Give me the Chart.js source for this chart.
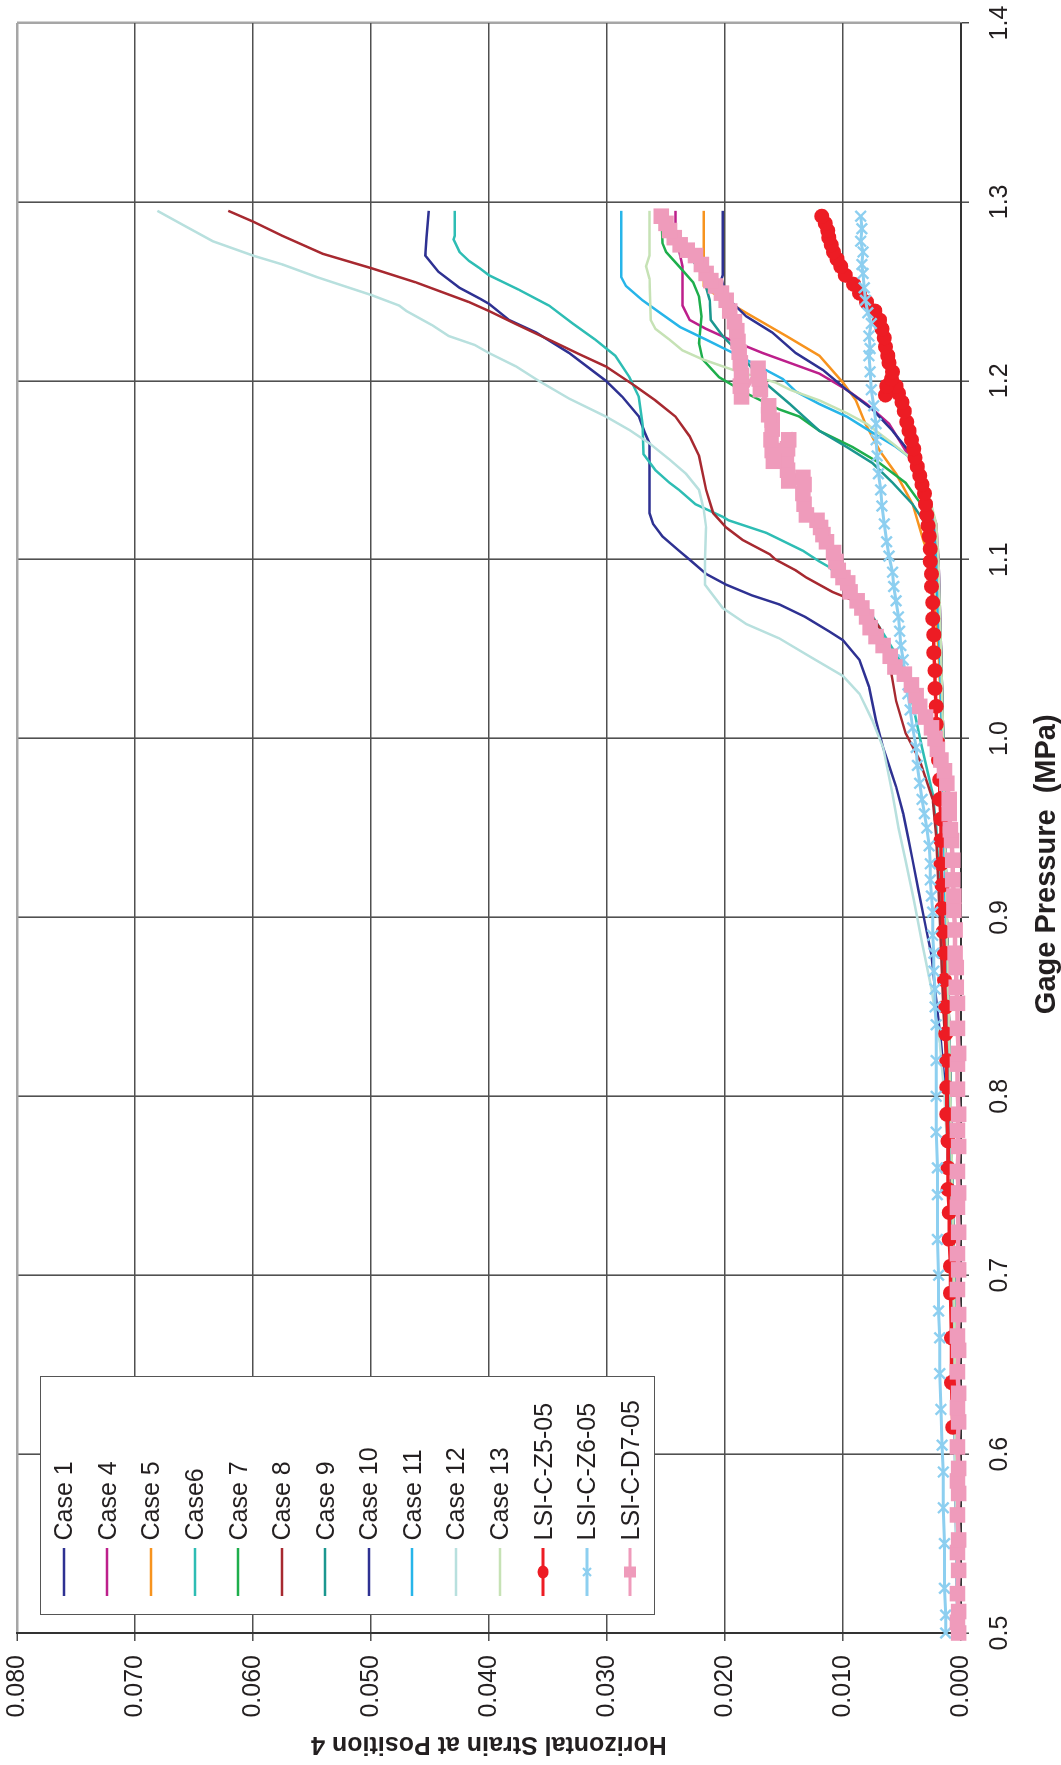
<!DOCTYPE html>
<html><head><meta charset="utf-8">
<script src="https://cdn.jsdelivr.net/npm/chart.js@4.4.1/dist/chart.umd.min.js"></script>
<style>
html,body{margin:0;padding:0;background:#fff;}
body{width:1061px;height:1765px;overflow:hidden;position:relative;}
#frame{position:absolute;left:0;top:0;width:1765px;height:1061px;transform-origin:0 0;transform:translateY(1765px) rotate(-90deg);}
#c{position:absolute;left:0;top:0;}
#legend{position:absolute;left:150px;top:40px;width:239px;height:615px;box-sizing:border-box;border:1.5px solid #555;background:#fff;padding-top:1px;font-family:"Liberation Sans",Arial,sans-serif;font-size:25px;color:#231f20;}
.item{height:43.58px;display:flex;align-items:center;}
.item svg{margin-left:17.5px;flex:none;}
.item span{margin-left:8px;white-space:nowrap;line-height:1;}
</style></head><body>
<div id="frame"><canvas id="c" width="1765" height="1061"></canvas><div id="legend"></div></div>
<script>
// [gage pressure (MPa), horizontal strain]
const case1 = [[0.50,0.0003],[0.60,0.0005],[0.70,0.0008],[0.80,0.0013],[0.83,0.0017],[0.86,0.0022],[0.879,0.0025],[0.895,0.0030],[0.915,0.0036],[0.932,0.0041],[0.945,0.0045],[0.958,0.0049],[0.973,0.0055],[0.985,0.0061],[0.995,0.0066],[1.010,0.0072],[1.029,0.0078],[1.044,0.0086],[1.055,0.0100],[1.060,0.0112],[1.068,0.0132],[1.075,0.0154],[1.080,0.0177],[1.086,0.0199],[1.092,0.0216],[1.100,0.0230],[1.105,0.0239],[1.113,0.0253],[1.120,0.0261],[1.126,0.0264],[1.145,0.0264],[1.165,0.0264],[1.171,0.0268],[1.180,0.0273],[1.191,0.0287],[1.200,0.0301],[1.2155,0.0332],[1.227,0.0360],[1.234,0.0383],[1.243,0.0400],[1.246,0.0408],[1.252,0.0425],[1.261,0.0443],[1.270,0.0454],[1.280,0.0453],[1.295,0.0451]];
const case4 = [[0.50,0.0002],[0.60,0.0004],[0.70,0.0006],[0.80,0.0009],[0.90,0.0012],[1.00,0.0015],[1.05,0.0017],[1.10,0.0019],[1.12,0.0021],[1.143,0.0033],[1.161,0.0047],[1.176,0.0061],[1.187,0.0080],[1.195,0.0097],[1.204,0.0120],[1.210,0.0145],[1.2155,0.0168],[1.223,0.0196],[1.229,0.0216],[1.234,0.0230],[1.242,0.0236],[1.264,0.0236],[1.273,0.0239],[1.285,0.0242],[1.295,0.0242]];
const case5 = [[0.50,0.0002],[0.60,0.0004],[0.70,0.0006],[0.80,0.0009],[0.90,0.0012],[1.00,0.0016],[1.05,0.0019],[1.10,0.0026],[1.111,0.0032],[1.131,0.0041],[1.148,0.0055],[1.161,0.0069],[1.176,0.0081],[1.189,0.0089],[1.199,0.0100],[1.214,0.0120],[1.225,0.0148],[1.238,0.0182],[1.249,0.0210],[1.253,0.0218],[1.295,0.0218]];
const case6 = [[0.50,0.0002],[0.60,0.0004],[0.70,0.0007],[0.80,0.0011],[0.85,0.0014],[0.90,0.0017],[0.951,0.0021],[0.969,0.0024],[0.995,0.0033],[1.029,0.0044],[1.044,0.0052],[1.062,0.0069],[1.077,0.0083],[1.090,0.0103],[1.096,0.0112],[1.099,0.0120],[1.105,0.0134],[1.115,0.0165],[1.122,0.0197],[1.124,0.0202],[1.131,0.0225],[1.139,0.0239],[1.143,0.0247],[1.150,0.0259],[1.159,0.0269],[1.176,0.0270],[1.191,0.0273],[1.202,0.0281],[1.214,0.0293],[1.223,0.0310],[1.232,0.0329],[1.242,0.0349],[1.251,0.0375],[1.259,0.0400],[1.263,0.0408],[1.267,0.0417],[1.272,0.0425],[1.279,0.0430],[1.281,0.0429],[1.295,0.0429]];
const case7 = [[0.50,0.0002],[0.60,0.0004],[0.70,0.0006],[0.80,0.0009],[0.90,0.0012],[1.00,0.0015],[1.05,0.0017],[1.10,0.0021],[1.122,0.0027],[1.133,0.0036],[1.143,0.0047],[1.154,0.0069],[1.163,0.0092],[1.172,0.0120],[1.180,0.0137],[1.184,0.0154],[1.193,0.0182],[1.202,0.0205],[1.212,0.0219],[1.221,0.0222],[1.236,0.0220],[1.247,0.0222],[1.255,0.0227],[1.264,0.0239],[1.272,0.0250],[1.277,0.0253],[1.295,0.0254]];
const case8 = [[0.50,0.0002],[0.60,0.0004],[0.70,0.0007],[0.80,0.0011],[0.85,0.0015],[0.90,0.0018],[0.945,0.0021],[0.966,0.0024],[0.988,0.0035],[1.003,0.0047],[1.021,0.0055],[1.044,0.0061],[1.062,0.0069],[1.075,0.0083],[1.082,0.0109],[1.090,0.0131],[1.094,0.0140],[1.100,0.0157],[1.103,0.0162],[1.111,0.0185],[1.118,0.0199],[1.126,0.0210],[1.139,0.0216],[1.158,0.0222],[1.169,0.0230],[1.180,0.0242],[1.189,0.0259],[1.197,0.0276],[1.208,0.0301],[1.215,0.0324],[1.222,0.0346],[1.231,0.0375],[1.239,0.0400],[1.244,0.0417],[1.255,0.0462],[1.263,0.0500],[1.271,0.0541],[1.281,0.0575],[1.289,0.0600],[1.295,0.0621]];
const case9 = [[0.50,0.0002],[0.60,0.0004],[0.70,0.0006],[0.80,0.0009],[0.90,0.0012],[1.00,0.0015],[1.05,0.0018],[1.10,0.0022],[1.12,0.0030],[1.131,0.0041],[1.143,0.0058],[1.154,0.0075],[1.163,0.0097],[1.172,0.0120],[1.187,0.0145],[1.200,0.0168],[1.2155,0.0188],[1.225,0.0202],[1.234,0.0212],[1.245,0.0213],[1.257,0.0218],[1.262,0.0222],[1.270,0.0230],[1.280,0.0243],[1.295,0.0257]];
const case10 = [[0.50,0.0002],[0.60,0.0004],[0.70,0.0006],[0.80,0.0009],[0.90,0.0012],[1.00,0.0015],[1.05,0.0017],[1.10,0.0019],[1.111,0.0021],[1.139,0.0030],[1.158,0.0041],[1.172,0.0058],[1.184,0.0075],[1.195,0.0097],[1.206,0.0117],[1.2155,0.0140],[1.227,0.0160],[1.236,0.0182],[1.247,0.0199],[1.257,0.0203],[1.259,0.0202],[1.295,0.0202]];
const case11 = [[0.50,0.0002],[0.60,0.0004],[0.70,0.0006],[0.80,0.0009],[0.90,0.0013],[1.00,0.0016],[1.05,0.0018],[1.10,0.0021],[1.12,0.0024],[1.144,0.0030],[1.156,0.0041],[1.163,0.0055],[1.171,0.0075],[1.180,0.0097],[1.187,0.0120],[1.194,0.0140],[1.201,0.0151],[1.208,0.0171],[1.2155,0.0193],[1.223,0.0216],[1.230,0.0238],[1.237,0.0253],[1.245,0.0270],[1.253,0.0284],[1.258,0.0288],[1.295,0.0288]];
const case12 = [[0.50,0.0003],[0.60,0.0005],[0.70,0.0008],[0.75,0.0010],[0.80,0.0014],[0.83,0.0018],[0.86,0.0025],[0.886,0.0033],[0.910,0.0040],[0.932,0.0047],[0.950,0.0053],[0.969,0.0058],[0.995,0.0066],[1.010,0.0075],[1.025,0.0086],[1.035,0.0100],[1.045,0.0126],[1.056,0.0154],[1.064,0.0182],[1.073,0.0202],[1.086,0.0217],[1.100,0.0217],[1.118,0.0216],[1.128,0.0218],[1.139,0.0222],[1.148,0.0233],[1.156,0.0247],[1.165,0.0264],[1.1725,0.0281],[1.180,0.0301],[1.190,0.0332],[1.200,0.0358],[1.208,0.0377],[1.2155,0.0400],[1.220,0.0412],[1.225,0.0434],[1.231,0.0448],[1.235,0.0459],[1.239,0.0470],[1.242,0.0476],[1.248,0.0500],[1.258,0.0546],[1.265,0.0575],[1.270,0.0600],[1.278,0.0634],[1.287,0.0659],[1.295,0.0681]];
const case13 = [[0.50,0.0002],[0.60,0.0004],[0.70,0.0006],[0.80,0.0009],[0.90,0.0012],[1.00,0.0015],[1.05,0.0017],[1.10,0.0019],[1.12,0.0021],[1.143,0.0030],[1.156,0.0041],[1.165,0.0058],[1.176,0.0080],[1.182,0.0097],[1.189,0.0120],[1.195,0.0145],[1.199,0.0157],[1.206,0.0193],[1.212,0.0219],[1.217,0.0236],[1.223,0.0247],[1.229,0.0259],[1.234,0.0263],[1.257,0.0264],[1.264,0.0267],[1.270,0.0264],[1.295,0.0264]];
const lsiZ5 = [[0.615,0.0007],[0.640,0.0008],[0.665,0.0008],[0.690,0.0009],[0.705,0.0009],[0.720,0.0010],[0.735,0.0010],[0.748,0.0011],[0.760,0.0011],[0.775,0.0011],[0.790,0.0012],[0.805,0.0012],[0.820,0.0012],[0.835,0.0013],[0.850,0.0013],[0.865,0.0014],[0.880,0.0014],[0.892,0.0015],[0.905,0.0016],[0.918,0.0016],[0.930,0.0017],[0.943,0.0017],[0.955,0.0017],[0.966,0.0018],[0.977,0.0018],[0.988,0.0019],[0.998,0.0020],[1.008,0.0021],[1.018,0.0021],[1.028,0.0022],[1.038,0.0022],[1.048,0.0023],[1.058,0.0023],[1.067,0.0024],[1.076,0.0024],[1.085,0.0025],[1.092,0.0025],[1.099,0.0026],[1.106,0.0026],[1.113,0.0027],[1.119,0.0028],[1.125,0.0029],[1.131,0.0030],[1.137,0.0031],[1.142,0.0033],[1.147,0.0035],[1.152,0.0037],[1.157,0.0039],[1.162,0.0040],[1.167,0.0042],[1.172,0.0044],[1.177,0.0046],[1.183,0.0048],[1.188,0.0050],[1.193,0.0053],[1.197,0.0055],[1.192,0.0064],[1.197,0.0063],[1.201,0.0059],[1.205,0.0058],[1.210,0.0061],[1.214,0.0062],[1.219,0.0064],[1.224,0.0065],[1.229,0.0067],[1.234,0.0069],[1.239,0.0073],[1.244,0.0080],[1.249,0.0086],[1.254,0.0091],[1.259,0.0098],[1.264,0.0102],[1.268,0.0105],[1.272,0.0108],[1.276,0.0110],[1.280,0.0112],[1.284,0.0113],[1.288,0.0115],[1.292,0.0118]];
const lsiZ6 = [[0.500,0.0013],[0.510,0.0013],[0.525,0.0014],[0.550,0.0014],[0.570,0.0015],[0.590,0.0015],[0.605,0.0016],[0.625,0.0017],[0.645,0.0018],[0.665,0.0018],[0.680,0.0019],[0.700,0.0019],[0.720,0.0020],[0.745,0.0020],[0.760,0.0020],[0.780,0.0021],[0.800,0.0021],[0.820,0.0021],[0.840,0.0021],[0.850,0.0022],[0.860,0.0022],[0.870,0.0023],[0.880,0.0023],[0.890,0.0024],[0.903,0.0024],[0.912,0.0025],[0.921,0.0026],[0.930,0.0026],[0.940,0.0027],[0.950,0.0029],[0.958,0.0031],[0.966,0.0033],[0.975,0.0035],[0.985,0.0037],[0.995,0.0038],[1.006,0.0041],[1.016,0.0043],[1.025,0.0045],[1.035,0.0047],[1.044,0.0049],[1.052,0.0051],[1.060,0.0052],[1.068,0.0053],[1.077,0.0055],[1.085,0.0057],[1.093,0.0058],[1.102,0.0061],[1.110,0.0063],[1.120,0.0065],[1.130,0.0067],[1.139,0.0068],[1.148,0.0070],[1.158,0.0071],[1.167,0.0072],[1.176,0.0072],[1.186,0.0074],[1.195,0.0076],[1.205,0.0077],[1.214,0.0078],[1.218,0.0077],[1.225,0.0078],[1.232,0.0076],[1.238,0.0079],[1.245,0.0081],[1.252,0.0082],[1.260,0.0083],[1.265,0.0084],[1.272,0.0083],[1.278,0.0085],[1.285,0.0084],[1.292,0.0085]];
const lsiD7 = [[0.500,0.0002],[0.506,0.0003],[0.512,0.0002],[0.522,0.0003],[0.535,0.0002],[0.545,0.0003],[0.552,0.0002],[0.566,0.0003],[0.578,0.0002],[0.585,0.0003],[0.592,0.0002],[0.604,0.0003],[0.618,0.0002],[0.626,0.0003],[0.634,0.0002],[0.646,0.0003],[0.658,0.0002],[0.666,0.0003],[0.678,0.0002],[0.692,0.0003],[0.703,0.0002],[0.712,0.0003],[0.724,0.0002],[0.738,0.0003],[0.746,0.0002],[0.758,0.0003],[0.772,0.0002],[0.781,0.0003],[0.790,0.0002],[0.804,0.0003],[0.818,0.0003],[0.824,0.0002],[0.838,0.0003],[0.852,0.0003],[0.861,0.0004],[0.872,0.0004],[0.880,0.0005],[0.893,0.0005],[0.904,0.0006],[0.912,0.0006],[0.921,0.0007],[0.932,0.0007],[0.943,0.0008],[0.949,0.0009],[0.958,0.0010],[0.966,0.0010],[0.975,0.0012],[0.982,0.0014],[0.988,0.0017],[0.994,0.0020],[1.000,0.0022],[1.006,0.0025],[1.012,0.0030],[1.018,0.0035],[1.024,0.0038],[1.030,0.0042],[1.036,0.0048],[1.040,0.0056],[1.046,0.0060],[1.052,0.0066],[1.057,0.0072],[1.062,0.0077],[1.068,0.0080],[1.073,0.0084],[1.077,0.0088],[1.082,0.0094],[1.087,0.0096],[1.090,0.0100],[1.094,0.0104],[1.099,0.0106],[1.104,0.0108],[1.110,0.0114],[1.114,0.0117],[1.118,0.0119],[1.122,0.0122],[1.125,0.0131],[1.131,0.0133],[1.137,0.0134],[1.142,0.0133],[1.146,0.0134],[1.144,0.0146],[1.150,0.0147],[1.156,0.0148],[1.162,0.0147],[1.167,0.0146],[1.155,0.0159],[1.161,0.0160],[1.167,0.0161],[1.173,0.0160],[1.178,0.0160],[1.181,0.0163],[1.186,0.0163],[1.195,0.0170],[1.201,0.0171],[1.207,0.0172],[1.191,0.0186],[1.197,0.0187],[1.203,0.0186],[1.210,0.0187],[1.216,0.0188],[1.222,0.0189],[1.228,0.0190],[1.233,0.0192],[1.239,0.0196],[1.245,0.0199],[1.249,0.0203],[1.253,0.0208],[1.256,0.0212],[1.260,0.0216],[1.265,0.0220],[1.270,0.0225],[1.273,0.0232],[1.276,0.0238],[1.280,0.0243],[1.284,0.0247],[1.288,0.0250],[1.292,0.0254]];

const seriesNames = ['Case 1','Case 4','Case 5','Case6','Case 7','Case 8','Case 9','Case 10','Case 11','Case 12','Case 13','LSI-C-Z5-05','LSI-C-Z6-05','LSI-C-D7-05'];
const seriesData = [case1,case4,case5,case6,case7,case8,case9,case10,case11,case12,case13,lsiZ5,lsiZ6,lsiD7];
const seriesColors = ['#2e3192','#bd1f8b','#f7931e','#2ebdb4','#1eae4c','#a72930','#1b978f','#2e3192','#27b5e9','#b8e0de','#c6e2b5','#ed1c24','#8dcff0','#ef9bbb'];
const xTicks = [0.5,0.6,0.7,0.8,0.9,1.0,1.1,1.2,1.3,1.4];
const yTicks = [0,0.01,0.02,0.03,0.04,0.05,0.06,0.07,0.08];

const markerStyle = {
  'LSI-C-Z5-05': {pointStyle:'circle', pointRadius:7.5, pointBorderWidth:0, borderWidth:3.5},
  'LSI-C-Z6-05': {pointStyle:'crossRot', pointRadius:7.5, pointBorderWidth:2.4, borderWidth:3},
  'LSI-C-D7-05': {pointStyle:'rect', pointRadius:11, pointBorderWidth:0, borderWidth:4.5}
};

const N = seriesNames.length;
const datasets = seriesNames.map((name, i) => {
  const m = markerStyle[name];
  const base = {
    label: name,
    data: seriesData[i].map(([p, s]) => ({x: p, y: s})),
    showLine: true,
    borderColor: seriesColors[i],
    backgroundColor: seriesColors[i],
    pointBackgroundColor: seriesColors[i],
    pointBorderColor: seriesColors[i],
    tension: 0,
    order: N - i
  };
  if (m) return Object.assign(base, m, {clip: false});
  return Object.assign(base, {borderWidth: 2.5, pointRadius: 0, pointHoverRadius: 0});
});

const FONT = '"Liberation Sans", Arial, Helvetica, sans-serif';
const TXT = '#231f20';

new Chart(document.getElementById('c'), {
  type: 'scatter',
  data: {datasets},
  options: {
    responsive: false,
    animation: false,
    devicePixelRatio: 1,
    layout: {padding: {top: 17, right: 23, left: 0, bottom: 0}},
    plugins: {legend: {display: false}, tooltip: {enabled: false}},
    scales: {
      x: {
        type: 'linear', min: xTicks[0], max: xTicks[xTicks.length - 1],
        afterBuildTicks: s => { s.ticks = xTicks.map(v => ({value: v})); },
        afterFit: s => { s.height = 100; s.paddingLeft = 0; s.paddingRight = 0; },
        ticks: {callback: v => Number(v).toFixed(1), font: {family: FONT, size: 25}, color: TXT, padding: 16, maxRotation: 0, autoSkip: false},
        grid: {
          color: c => (c.tick && c.tick.value > 1.399) ? '#a6a6a6' : '#505050',
          lineWidth: c => (c.tick && c.tick.value > 1.399) ? 2.5 : 1.6,
          tickLength: 8, tickColor: '#404040', tickWidth: 1.4
        },
        border: {color: '#333', width: 2},
        title: {display: true, text: 'Gage Pressure  (MPa)         ', font: {family: FONT, size: 29, weight: 'bold', lineHeight: 1}, color: TXT, padding: 0}
      },
      y: {
        type: 'linear', min: yTicks[0], max: yTicks[yTicks.length - 1],
        afterBuildTicks: s => { s.ticks = yTicks.map(v => ({value: v})); },
        afterFit: s => { s.width = 132; s.paddingTop = 0; s.paddingBottom = 0; },
        ticks: {callback: v => Number(v).toFixed(3), font: {family: FONT, size: 25}, color: TXT, padding: 14},
        grid: {
          color: c => (c.tick && c.tick.value > 0.0799) ? '#a6a6a6' : '#505050',
          lineWidth: c => (c.tick && c.tick.value > 0.0799) ? 2.5 : 1.6,
          tickLength: 8, tickColor: '#404040', tickWidth: 1.4
        },
        border: {color: '#333', width: 2},
        title: {display: true, text: 'Horizontal Strain at Position 4', font: {family: FONT, size: 25, weight: 'bold', lineHeight: 1}, color: TXT, padding: {top: 8.5, bottom: 0}}
      }
    }
  }
});

// legend built from the same series
const legend = document.getElementById('legend');
datasets.forEach(ds => {
  const item = document.createElement('div');
  item.className = 'item';
  const c = ds.borderColor;
  let marker = '';
  if (ds.pointStyle === 'circle') marker = `<ellipse cx="24" cy="10" rx="6.5" ry="5.5" fill="${c}"/>`;
  else if (ds.pointStyle === 'crossRot') marker = `<path d="M20 6 L28 14 M28 6 L20 14" stroke="${c}" stroke-width="2.2"/>`;
  else if (ds.pointStyle === 'rect') marker = `<rect x="18.5" y="4" width="11" height="12" fill="${c}"/>`;
  const lw = ds.pointStyle ? 3 : 2.6;
  item.innerHTML = `<svg width="48" height="20" viewBox="0 0 48 20"><line x1="0" y1="10" x2="48" y2="10" stroke="${c}" stroke-width="${lw}"/>${marker}</svg><span>${ds.label}</span>`;
  legend.appendChild(item);
});
</script></body></html>
